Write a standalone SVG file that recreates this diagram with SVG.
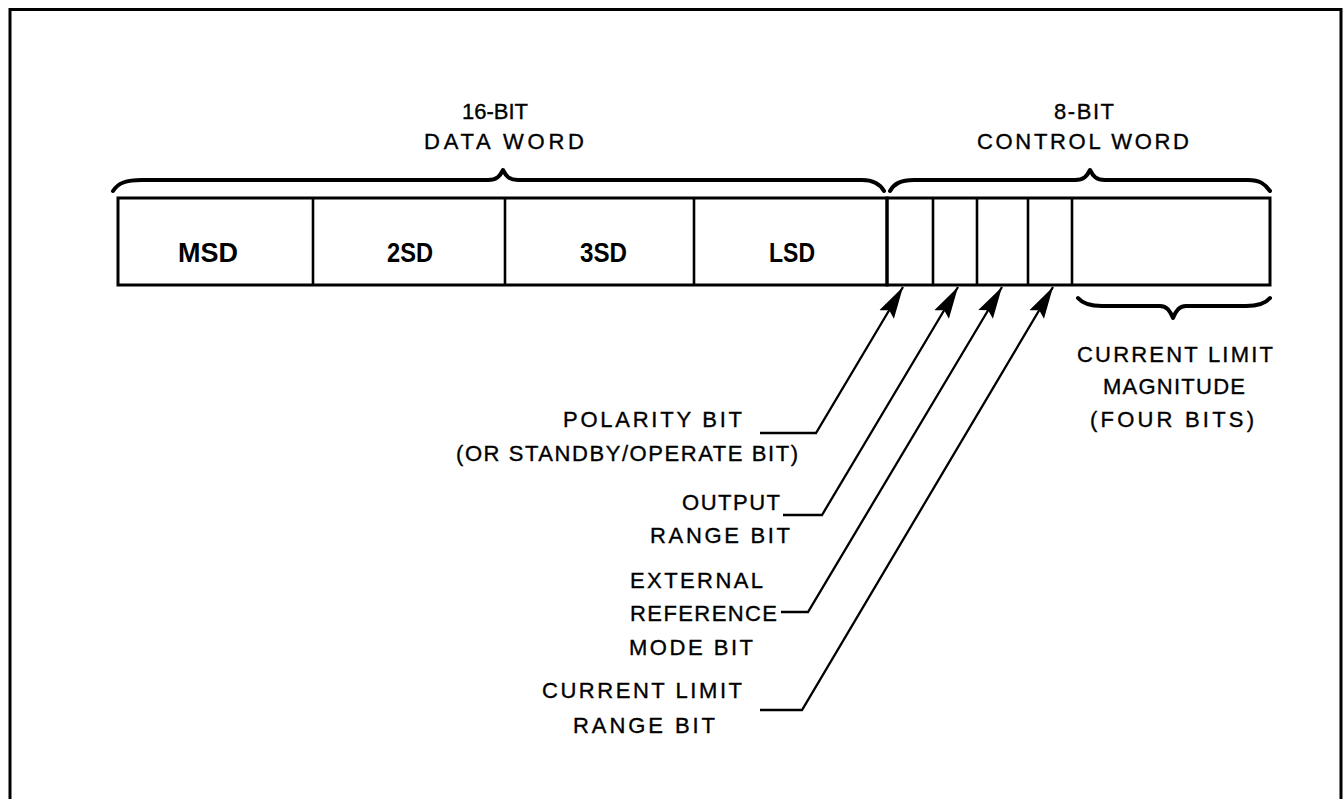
<svg xmlns="http://www.w3.org/2000/svg" width="1344" height="799" viewBox="0 0 1344 799">
<style>
.t{font-family:"Liberation Sans",Arial,sans-serif;font-size:22px;fill:#000;stroke:#000;stroke-width:0.35}
.b{font-family:"Liberation Sans",Arial,sans-serif;font-size:28px;font-weight:bold;fill:#000}
.box{fill:none;stroke:#000;stroke-width:3}
.div{stroke:#000;stroke-width:2.6}
.brace{fill:none;stroke:#000;stroke-width:4;stroke-linecap:round;stroke-linejoin:round}
.lead{fill:none;stroke:#000;stroke-width:2.3}
</style>
<defs>
<marker id="ah" markerUnits="userSpaceOnUse" markerWidth="34" markerHeight="20" refX="32" refY="9" orient="auto">
<path d="M0,0.5 L32,9 L0,17.5 L5,9 Z" fill="#000"/>
</marker>
</defs>
<rect width="1344" height="799" fill="#fff"/>
<rect id="frame" x="10" y="9.5" width="1331" height="800" fill="none" stroke="#000" stroke-width="3"/>

<g id="data-word">
<rect class="box" x="118" y="198" width="769" height="87"/>
<line class="div" x1="313" y1="198" x2="313" y2="285"/>
<line class="div" x1="505" y1="198" x2="505" y2="285"/>
<line class="div" x1="694" y1="198" x2="694" y2="285"/>
<text class="b" x="178" y="262" textLength="60" lengthAdjust="spacingAndGlyphs">MSD</text>
<text class="b" x="387" y="262" textLength="46" lengthAdjust="spacingAndGlyphs">2SD</text>
<text class="b" x="580" y="262" textLength="47" lengthAdjust="spacingAndGlyphs">3SD</text>
<text class="b" x="769" y="262" textLength="46" lengthAdjust="spacingAndGlyphs">LSD</text>
</g>

<g id="control-word">
<rect class="box" x="887" y="198" width="383" height="87"/>
<line class="div" x1="933" y1="198" x2="933" y2="285"/>
<line class="div" x1="977" y1="198" x2="977" y2="285"/>
<line class="div" x1="1028" y1="198" x2="1028" y2="285"/>
<line class="div" x1="1072" y1="198" x2="1072" y2="285"/>
</g>

<g id="data-brace">
<path class="brace" d="M113,191 C118,183 126,180 142,180 L488,180 C497,180 500,176 503,170 C506,176 509,180 518,180 L862,180 C874,180 880,184 884,191"/>
<text class="t" x="462" y="119" textLength="66" lengthAdjust="spacing">16-BIT</text>
<text class="t" x="424" y="149" textLength="160" lengthAdjust="spacing">DATA WORD</text>
</g>

<g id="control-brace">
<path class="brace" d="M890,191 C894,184 900,180 914,180 L1075,180 C1084,180 1087,176 1090,170 C1093,176 1096,180 1105,180 L1248,180 C1260,180 1265,184 1270,191"/>
<text class="t" x="1054" y="119" textLength="60" lengthAdjust="spacing">8-BIT</text>
<text class="t" x="977" y="149" textLength="212" lengthAdjust="spacing">CONTROL WORD</text>
</g>

<g id="magnitude">
<path class="brace" d="M1078,298 C1083,304 1090,306 1102,306 L1160,306 C1167,306 1170,311 1173,318 C1176,311 1179,306 1186,306 L1246,306 C1258,306 1265,304 1270,298"/>
<text class="t" x="1077" y="362" textLength="196" lengthAdjust="spacing">CURRENT LIMIT</text>
<text class="t" x="1103" y="394" textLength="142" lengthAdjust="spacing">MAGNITUDE</text>
<text class="t" x="1090" y="427" textLength="164" lengthAdjust="spacing">(FOUR BITS)</text>
</g>

<g id="connectors">
<polyline class="lead" points="760,433 816,433 903,287" marker-end="url(#ah)"/>
<polyline class="lead" points="783,515 822,515 958,287" marker-end="url(#ah)"/>
<polyline class="lead" points="781,612 808,612 1002,287" marker-end="url(#ah)"/>
<polyline class="lead" points="760,710 802,710 1053,287" marker-end="url(#ah)"/>
</g>

<g id="polarity-label">
<text class="t" x="563" y="427" textLength="179" lengthAdjust="spacing">POLARITY BIT</text>
<text class="t" x="456" y="461" textLength="342" lengthAdjust="spacing">(OR STANDBY/OPERATE BIT)</text>
</g>
<g id="output-label">
<text class="t" x="682" y="510" textLength="98" lengthAdjust="spacing">OUTPUT</text>
<text class="t" x="650" y="543" textLength="140" lengthAdjust="spacing">RANGE BIT</text>
</g>
<g id="external-label">
<text class="t" x="630" y="588" textLength="133" lengthAdjust="spacing">EXTERNAL</text>
<text class="t" x="630" y="621" textLength="147" lengthAdjust="spacing">REFERENCE</text>
<text class="t" x="629" y="655" textLength="124" lengthAdjust="spacing">MODE BIT</text>
</g>
<g id="current-label">
<text class="t" x="542" y="698" textLength="200" lengthAdjust="spacing">CURRENT LIMIT</text>
<text class="t" x="573" y="733" textLength="142" lengthAdjust="spacing">RANGE BIT</text>
</g>
</svg>
